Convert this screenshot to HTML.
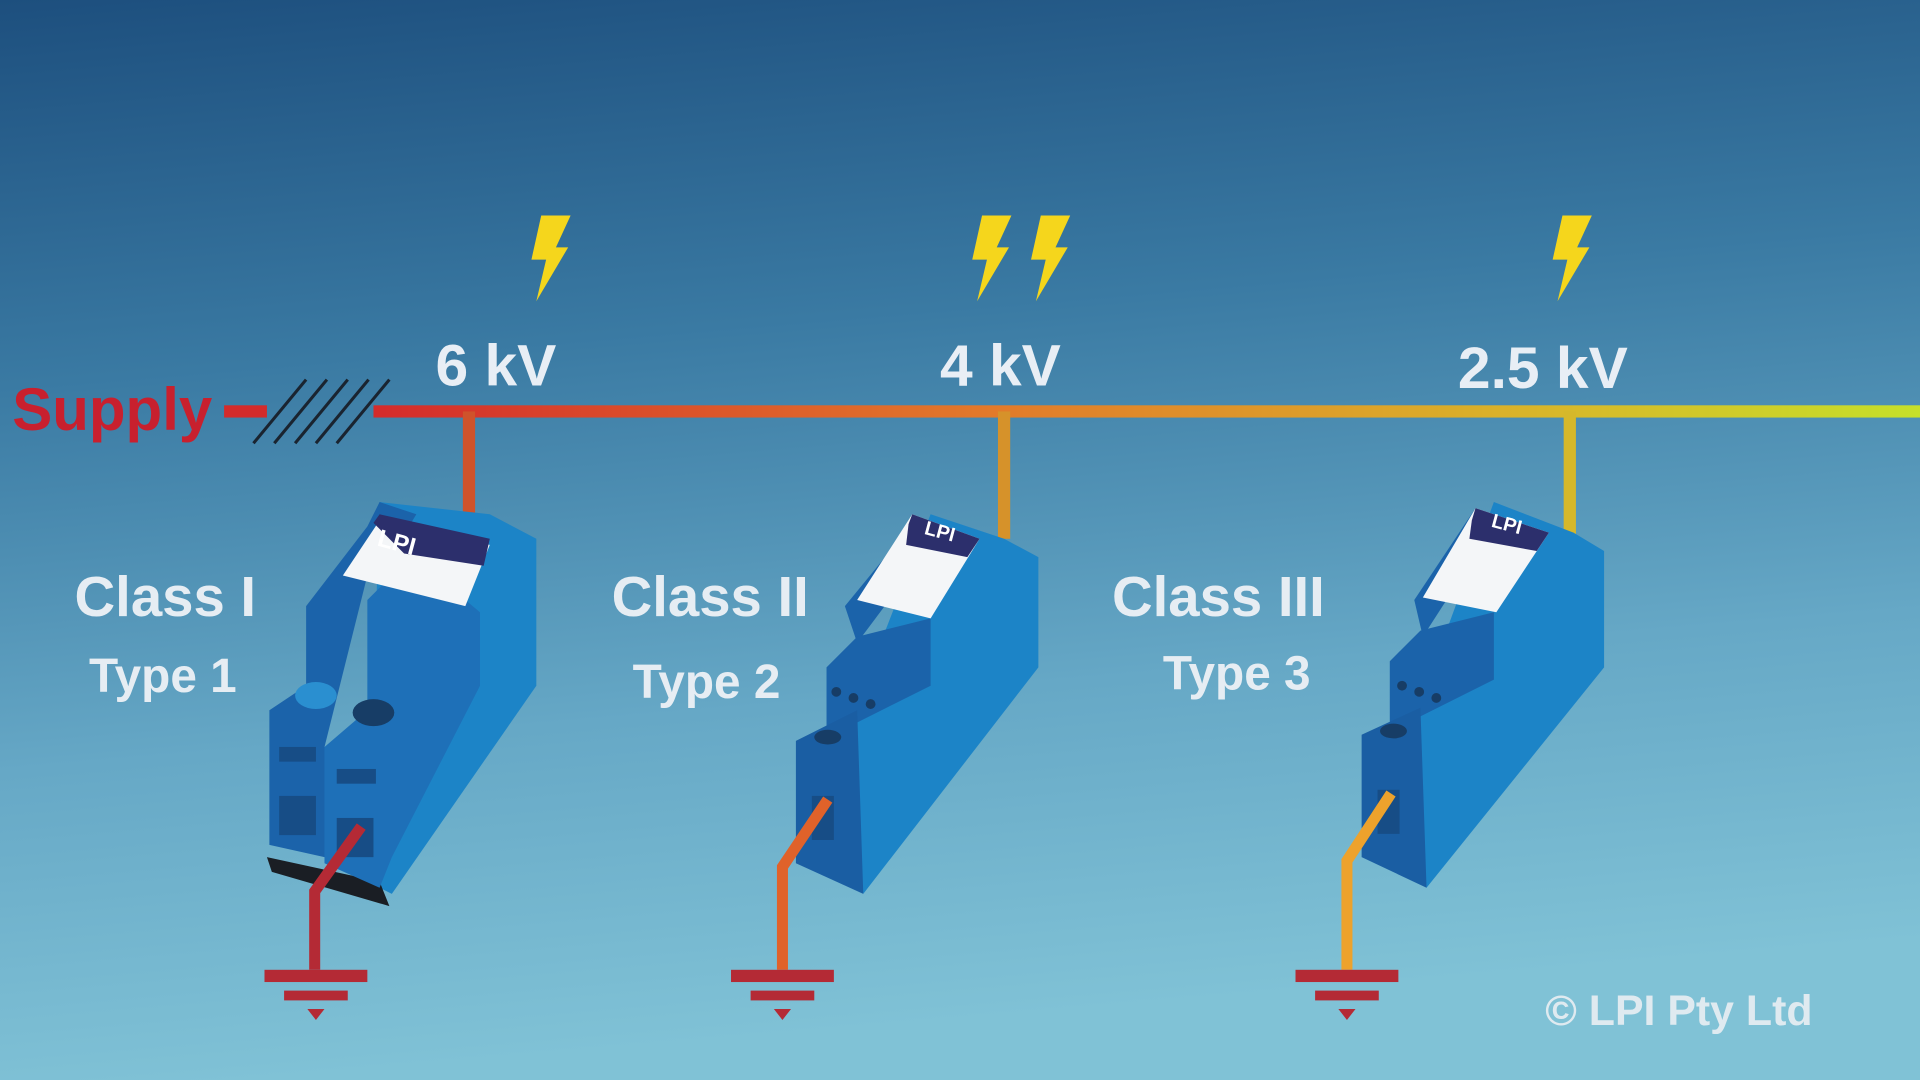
<!DOCTYPE html>
<html><head><meta charset="utf-8"><style>
html,body{margin:0;padding:0;width:1920px;height:1080px;overflow:hidden}
svg{display:block}
text{font-family:"Liberation Sans",sans-serif;font-weight:bold}
</style></head><body>
<svg width="1920" height="1080" viewBox="0 0 1568 882" preserveAspectRatio="none">
<defs>
<linearGradient id="bg" x1="0" y1="0" x2="0.15" y2="1">
<stop offset="0" stop-color="#1d4f7e"/><stop offset="0.35" stop-color="#3a7aa3"/><stop offset="0.7" stop-color="#66a8c6"/><stop offset="1" stop-color="#80c2d6"/>
</linearGradient>
<linearGradient id="ln" x1="305" y1="0" x2="1568" y2="0" gradientUnits="userSpaceOnUse">
<stop offset="0" stop-color="#d42b2b"/><stop offset="0.4" stop-color="#e27a2a"/><stop offset="0.75" stop-color="#d9b52a"/><stop offset="1" stop-color="#c6e02a"/>
</linearGradient>
<g id="bolt"><polygon points="12,0 36,0 24,26 34,26 8,70 16,36 4,36" fill="#f5d61c"/></g>
<g id="gnd"><rect x="-42" y="0" width="84" height="10" fill="#b42a35"/><rect x="-26" y="17" width="52" height="8" fill="#b42a35"/><polygon points="-7,32 7,32 0,41" fill="#b42a35"/></g>
</defs>
<rect width="1568" height="882" fill="url(#bg)"/>
<rect x="183" y="331" width="35" height="10" fill="#d42b2b"/>
<rect x="305" y="331" width="1263" height="10" fill="url(#ln)"/>
<g stroke="#1a2430" stroke-width="2.5">
<line x1="207" y1="362" x2="250" y2="310"/><line x1="224" y1="362" x2="267" y2="310"/><line x1="241" y1="362" x2="284" y2="310"/><line x1="258" y1="362" x2="301" y2="310"/><line x1="275" y1="362" x2="318" y2="310"/>
</g>
<rect x="378" y="336" width="10" height="86" fill="#cf532b"/>
<rect x="815" y="336" width="10" height="104" fill="#d6922a"/>
<rect x="1277" y="336" width="10" height="100" fill="#d6b82a"/>
<text x="10" y="351" font-size="49" fill="#c8202e">Supply</text>
<text x="405" y="315" font-size="48" fill="#e8eef5" text-anchor="middle">6 kV</text>
<text x="817" y="315" font-size="48" fill="#e8eef5" text-anchor="middle">4 kV</text>
<text x="1260" y="317" font-size="48" fill="#e8eef5" text-anchor="middle">2.5 kV</text>
<use href="#bolt" x="430" y="176"/>
<use href="#bolt" x="790" y="176"/><use href="#bolt" x="838" y="176"/>
<use href="#bolt" x="1264" y="176"/>
<text x="135" y="503" font-size="46" fill="#e6edf3" text-anchor="middle">Class I</text>
<text x="133" y="565" font-size="39" fill="#e6edf3" text-anchor="middle">Type 1</text>
<text x="580" y="503" font-size="46" fill="#e6edf3" text-anchor="middle">Class II</text>
<text x="577" y="570" font-size="39" fill="#e6edf3" text-anchor="middle">Type 2</text>
<text x="995" y="503" font-size="46" fill="#e6edf3" text-anchor="middle">Class III</text>
<text x="1010" y="563" font-size="39" fill="#e6edf3" text-anchor="middle">Type 3</text>
<text x="1262" y="837" font-size="35" fill="#dfeaf0">© LPI Pty Ltd</text>

<polygon points="310,410 400,420 438,440 438,560 320,730 300,720" fill="#1c84c7"/>
<polygon points="218,700 310,720 318,740 222,712" fill="#1a1e24"/>
<polygon points="220,580 250,560 250,495 300,430 310,410 340,420 310,470 300,470 265,610 265,700 220,690" fill="#1b63aa"/>
<polygon points="265,610 300,580 300,490 315,475 380,490 392,500 392,560 320,700 310,725 265,705" fill="#1e70b8"/>
<polygon points="280,470 310,425 400,445 380,495" fill="#f4f6f8"/>
<polygon points="305,427 310,420 400,440 395,462 330,452" fill="#2c2f6c"/>
<text x="308" y="450" font-size="20" fill="#fff" transform="rotate(15 325 445)">LPI</text>
<ellipse cx="258" cy="568" rx="17" ry="11" fill="#2a8fd0"/>
<ellipse cx="305" cy="582" rx="17" ry="11" fill="#173d66"/>
<rect x="228" y="610" width="30" height="12" fill="#174d86"/><rect x="275" y="628" width="32" height="12" fill="#174d86"/>
<rect x="228" y="650" width="30" height="32" fill="#174d86"/><rect x="275" y="668" width="30" height="32" fill="#174d86"/>
<polygon points="760,420 820,440 848,455 848,545 705,730 690,600" fill="#1c84c7"/>
<polygon points="690,495 745,428 760,445 700,525" fill="#1b63aa"/>
<polygon points="675,545 700,520 760,505 760,560 700,590 675,610" fill="#1b63aa"/>
<polygon points="650,605 700,580 705,730 650,705" fill="#1a5ea3"/>
<polygon points="700,490 745,420 800,440 760,505" fill="#f4f6f8"/>
<polygon points="745,420 800,440 790,455 740,445 742,428" fill="#2c2f6c"/>
<text x="755" y="440" font-size="16" fill="#fff" transform="rotate(15 770 435)">LPI</text>
<circle cx="683" cy="565" r="4" fill="#173d66"/><circle cx="697" cy="570" r="4" fill="#173d66"/><circle cx="711" cy="575" r="4" fill="#173d66"/>
<ellipse cx="676" cy="602" rx="11" ry="6" fill="#173d66"/>
<rect x="663" y="650" width="18" height="36" fill="#174d86"/>
<polygon points="1220,410 1285,435 1310,450 1310,545 1165,725 1150,600" fill="#1c84c7"/>
<polygon points="1155,490 1205,415 1220,430 1162,520" fill="#1b63aa"/>
<polygon points="1135,540 1160,515 1220,500 1220,555 1160,585 1135,605" fill="#1b63aa"/>
<polygon points="1112,600 1160,578 1165,725 1112,700" fill="#1a5ea3"/>
<polygon points="1162,488 1205,415 1265,435 1222,500" fill="#f4f6f8"/>
<polygon points="1205,415 1265,435 1255,450 1200,440 1202,425" fill="#2c2f6c"/>
<text x="1218" y="434" font-size="16" fill="#fff" transform="rotate(15 1233 429)">LPI</text>
<circle cx="1145" cy="560" r="4" fill="#173d66"/><circle cx="1159" cy="565" r="4" fill="#173d66"/><circle cx="1173" cy="570" r="4" fill="#173d66"/>
<ellipse cx="1138" cy="597" rx="11" ry="6" fill="#173d66"/>
<rect x="1125" y="645" width="18" height="36" fill="#174d86"/>
<polyline points="295,675 257,728 257,792" fill="none" stroke="#b42a35" stroke-width="9"/>
<polyline points="676,653 639,708 639,792" fill="none" stroke="#e0622a" stroke-width="9"/>
<polyline points="1136,648 1100,703 1100,792" fill="none" stroke="#eda22c" stroke-width="9"/>
<use href="#gnd" x="258" y="792"/><use href="#gnd" x="639" y="792"/><use href="#gnd" x="1100" y="792"/>
</svg>
</body></html>
